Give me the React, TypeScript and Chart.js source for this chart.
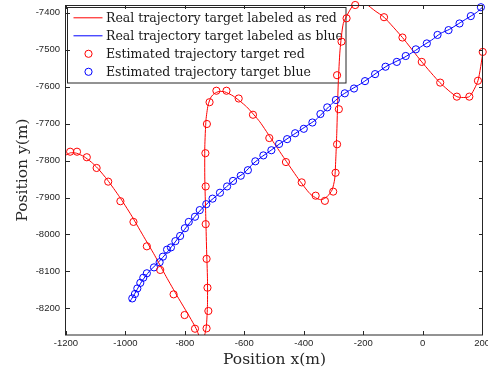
import React, { useEffect, useRef } from 'react';
import { Chart, registerables } from 'chart.js';

Chart.register(...registerables);

// ---- axis ranges & tick labels ----
const xMin = -1200;
const xMax = 203;
const yMin = -8272;
const yMax = -7379;
const xTicks = [-1200, -1000, -800, -600, -400, -200, 0, 200];
const yTicks = [-8200, -8100, -8000, -7900, -7800, -7700, -7600, -7500, -7400];

// ---- series: real trajectory, target labeled as red ----
const redRealX = [-1200, -1185, -1165, -1140, -1115, -1093, -1060, -1020, -981, -942, -902, -863, -824, -784, -762, -751, -745, -738, -728, -724, -724, -727, -730, -733, -733, -729, -722, -712, -700, -685, -666, -638, -593, -548, -503, -458, -415, -380, -355, -340, -322, -305, -296, -292, -289, -284, -278, -267, -245, -222, -205, -189, -160, -130, -68, -3, 58, 115, 157, 186, 203];
const redRealY = [-7785, -7779, -7780, -7789, -7804, -7821, -7853, -7898, -7947, -8001, -8056, -8114, -8169, -8223, -8255, -8277, -8288, -8286, -8250, -8190, -8120, -8040, -7943, -7850, -7763, -7690, -7650, -7628, -7618, -7613, -7614, -7625, -7654, -7695, -7749, -7803, -7853, -7889, -7903, -7906, -7898, -7880, -7850, -7790, -7726, -7591, -7501, -7429, -7393, -7366, -7360, -7376, -7395, -7412, -7467, -7533, -7589, -7627, -7627, -7584, -7506];

// ---- series: real trajectory, target labeled as blue ----
const blueRealX = [-985, -965, -945, -920, -895, -870, -845, -820, -795, -770, -745, -720, -690, -660, -630, -600, -570, -540, -510, -480, -450, -420, -390, -360, -330, -300, -270, -240, -210, -180, -150, -120, -90, -60, -30, 0, 30, 60, 90, 120, 150, 180, 200];
const blueRealY = [-8182, -8155, -8127, -8100, -8080, -8058, -8033, -8007, -7980, -7955, -7932, -7913, -7893, -7871, -7850, -7833, -7808, -7789, -7772, -7754, -7738, -7722, -7706, -7690, -7666, -7642, -7622, -7607, -7593, -7577, -7560, -7544, -7532, -7520, -7505, -7489, -7474, -7456, -7445, -7430, -7415, -7400, -7386];

// ---- series: estimated trajectory target red ----
const redEstX = [-1186, -1163, -1130, -1097, -1058, -1017, -973, -928, -883, -838, -801, -766, -727, -721, -724, -727, -730, -730, -731, -726, -717, -694, -660, -619, -571, -516, -460, -407, -360, -329, -301, -293, -288, -282, -288, -273, -256, -227, -130, -68, -3, 59, 115, 157, 186, 202];
const redEstY = [-7776, -7776, -7791, -7820, -7857, -7910, -7966, -8032, -8096, -8162, -8218, -8255, -8254, -8207, -8144, -8066, -7972, -7870, -7780, -7701, -7642, -7611, -7611, -7632, -7676, -7739, -7804, -7859, -7895, -7909, -7884, -7833, -7756, -7661, -7569, -7478, -7415, -7379, -7412, -7467, -7533, -7589, -7627, -7627, -7584, -7506];

// ---- series: estimated trajectory target blue ----
const blueEstX = [-977, -968, -960, -950, -940, -928, -904, -885, -874, -860, -847, -832, -816, -800, -787, -766, -750, -728, -707, -682, -658, -638, -612, -588, -563, -536, -509, -483, -456, -429, -400, -371, -344, -321, -292, -262, -231, -194, -160, -125, -87, -57, -23, 14, 50, 87, 124, 162, 196];
const blueEstY = [-8173, -8161, -8146, -8131, -8117, -8105, -8089, -8075, -8060, -8041, -8035, -8018, -8004, -7983, -7966, -7952, -7934, -7918, -7903, -7887, -7870, -7855, -7841, -7826, -7802, -7786, -7772, -7755, -7742, -7726, -7714, -7697, -7674, -7656, -7636, -7618, -7605, -7585, -7566, -7546, -7533, -7517, -7499, -7483, -7460, -7447, -7429, -7409, -7385];

const legendLabels = [
  'Real trajectory target labeled as red',
  'Real trajectory target labeled as blue',
  'Estimated trajectory target red',
  'Estimated trajectory target blue',
];
const xTitle = 'Position x(m)';
const yTitle = 'Position y(m)';

const RED = '#ff0000';
const BLUE = '#0000ff';
const AXIS = '#262626';

const toPts = (xs: number[], ys: number[]) => xs.map((x, i) => ({ x, y: ys[i] }));

const framePlugin = {
  id: 'matlabFrame',
  beforeDatasetsDraw(chart: any) {
    const { ctx, chartArea } = chart;
    // legend box (drawn under data, as in the reference)
    const bx = chartArea.left + 1.5;
    const by = chartArea.top + 2.5;
    const bw = 278.5;
    const bh = 75.5;
    ctx.save();
    ctx.fillStyle = '#ffffff';
    ctx.fillRect(bx, by, bw, bh);
    ctx.strokeStyle = AXIS;
    ctx.lineWidth = 1;
    ctx.strokeRect(bx, by, bw, bh);
    const rowH = 18;
    const colors = [RED, BLUE, RED, BLUE];
    ctx.font = '12.5px "DejaVu Serif"';
    ctx.textBaseline = 'alphabetic';
    ctx.textAlign = 'left';
    for (let i = 0; i < 4; i++) {
      const cy = by + 10.3 + i * rowH;
      ctx.strokeStyle = colors[i];
      ctx.lineWidth = 1;
      if (i < 2) {
        ctx.beginPath();
        ctx.moveTo(bx + 6, cy);
        ctx.lineTo(bx + 35, cy);
        ctx.stroke();
      } else {
        ctx.beginPath();
        ctx.arc(bx + 21, cy, 3.6, 0, Math.PI * 2);
        ctx.stroke();
      }
      ctx.fillStyle = '#1a1a1a';
      ctx.fillText(legendLabels[i], bx + 38.5, cy + 4.4);
    }
    ctx.restore();
  },
  afterDatasetsDraw(chart: any) {
    const { ctx, chartArea, scales } = chart;
    const { left, right, top, bottom } = chartArea;
    ctx.save();
    ctx.strokeStyle = AXIS;
    ctx.lineWidth = 1;
    ctx.strokeRect(left - 0.5, top + 0.5, right - left, bottom - top - 0.5);
    const tl = 4;
    ctx.beginPath();
    for (const t of scales.x.ticks) {
      const px = Math.round(scales.x.getPixelForValue(t.value)) + 0.5;
      ctx.moveTo(px, bottom);
      ctx.lineTo(px, bottom - tl);
      ctx.moveTo(px, top);
      ctx.lineTo(px, top + tl);
    }
    for (const t of scales.y.ticks) {
      const py = Math.round(scales.y.getPixelForValue(t.value)) + 0.5;
      ctx.moveTo(left, py);
      ctx.lineTo(left + tl, py);
      ctx.moveTo(right, py);
      ctx.lineTo(right - tl, py);
    }
    ctx.stroke();
    ctx.restore();
  },
};

export default function App() {
  const ref = useRef<HTMLCanvasElement | null>(null);
  useEffect(() => {
    if (!ref.current) return;
    const tickFont = { family: '"Liberation Sans", Arial, sans-serif', size: 9.5 };
    const titleFont = { family: '"DejaVu Serif", serif', size: 15.5 };
    const chart = new Chart(ref.current, {
      type: 'scatter',
      data: {
        datasets: [
          {
            label: legendLabels[2],
            data: toPts(redEstX, redEstY),
            showLine: false,
            pointStyle: 'circle',
            pointRadius: 3.6,
            pointBorderWidth: 1,
            pointBorderColor: RED,
            pointBackgroundColor: 'rgba(0,0,0,0)',
            clip: false,
            order: 0,
          },
          {
            label: legendLabels[3],
            data: toPts(blueEstX, blueEstY),
            showLine: false,
            pointStyle: 'circle',
            pointRadius: 3.6,
            pointBorderWidth: 1,
            pointBorderColor: BLUE,
            pointBackgroundColor: 'rgba(0,0,0,0)',
            clip: false,
            order: 0,
          },
          {
            label: legendLabels[0],
            data: toPts(redRealX, redRealY),
            showLine: true,
            borderColor: RED,
            borderWidth: 1,
            pointRadius: 0,
            tension: 0.2,
            order: 1,
          },
          {
            label: legendLabels[1],
            data: toPts(blueRealX, blueRealY),
            showLine: true,
            borderColor: BLUE,
            borderWidth: 1,
            pointRadius: 0,
            tension: 0.2,
            order: 1,
          },
        ],
      },
      options: {
        responsive: false,
        animation: false,
        devicePixelRatio: 1,
        layout: { padding: { top: 5, right: 5, left: 0, bottom: 0 } },
        plugins: { legend: { display: false }, tooltip: { enabled: false } },
        scales: {
          x: {
            type: 'linear',
            min: xMin,
            max: xMax,
            afterBuildTicks: (s: any) => {
              s.ticks = xTicks.map((v) => ({ value: v }));
            },
            afterFit: (s: any) => {
              s.height = 42;
              s.paddingLeft = 0;
              s.paddingRight = 0;
              s.paddingTop = 0;
              s.paddingBottom = 0;
            },
            ticks: {
              callback: (v: any) => String(v),
              autoSkip: false,
              maxRotation: 0,
              padding: 3,
              font: tickFont,
              color: AXIS,
            },
            grid: { display: false, drawTicks: false },
            border: { display: false },
            title: {
              display: true,
              text: xTitle,
              font: titleFont,
              color: AXIS,
              padding: { top: 0, bottom: 8 },
            },
          },
          y: {
            type: 'linear',
            min: yMin,
            max: yMax,
            afterBuildTicks: (s: any) => {
              s.ticks = yTicks.map((v) => ({ value: v }));
            },
            afterFit: (s: any) => {
              s.width = 66;
              s.paddingLeft = 0;
              s.paddingRight = 0;
              s.paddingTop = 0;
              s.paddingBottom = 0;
            },
            ticks: {
              callback: (v: any) => String(v),
              autoSkip: false,
              padding: 6,
              font: tickFont,
              color: AXIS,
            },
            grid: { display: false, drawTicks: false },
            border: { display: false },
            title: {
              display: true,
              text: yTitle,
              font: titleFont,
              color: AXIS,
              padding: { top: 14, bottom: 0 },
            },
          },
        },
      },
      plugins: [framePlugin],
    } as any);
    return () => chart.destroy();
  }, []);
  return (
    <canvas
      ref={ref}
      width={488}
      height={377}
      style={{ position: 'fixed', left: 0, top: 0, width: 488, height: 377, display: 'block', background: '#fff' }}
    />
  );
}
